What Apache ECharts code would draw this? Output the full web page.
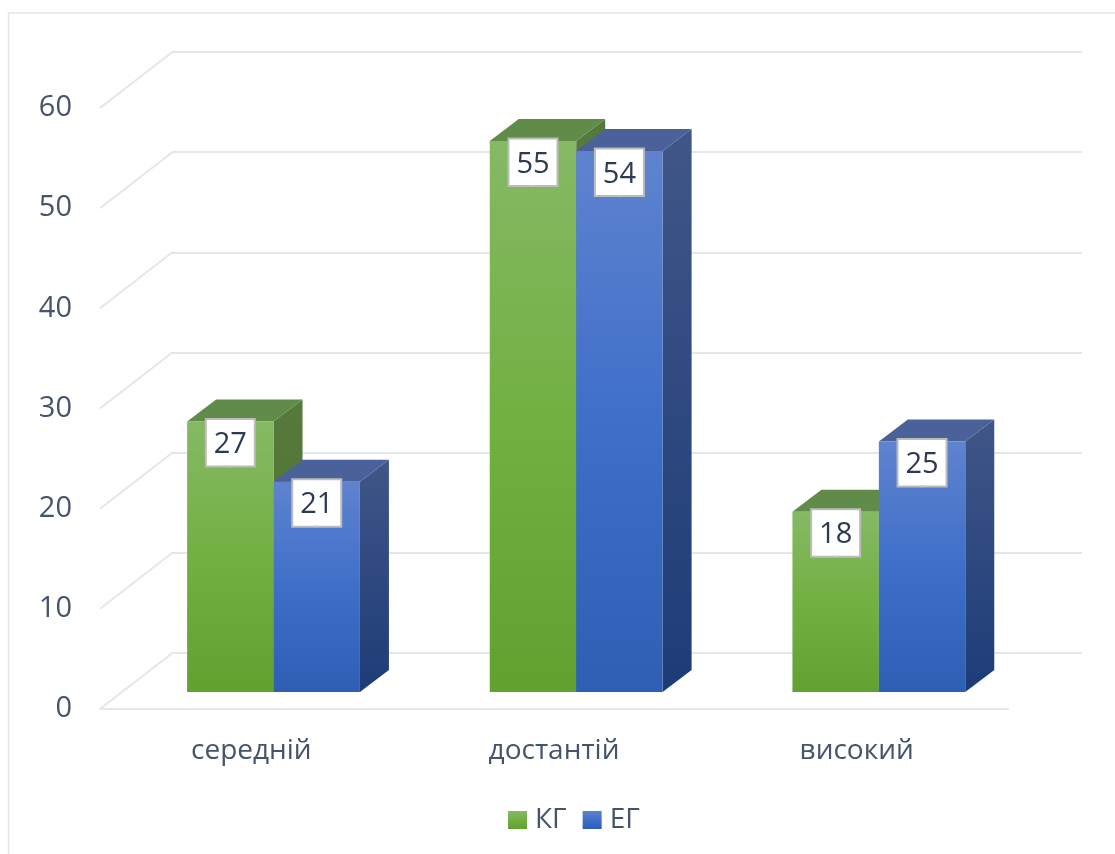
<!DOCTYPE html>
<html><head><meta charset="utf-8">
<style>html,body{margin:0;padding:0;background:#fff}#c{width:1115px;height:854px}</style>
<script src="https://cdn.jsdelivr.net/npm/echarts@6/dist/echarts.min.js"></script>
</head><body><div id="c"></div>
<script>
const categories = ['середній', 'достантій', 'високий'];
const kgValues = [27, 55, 18];
const egValues = [21, 54, 25];
const tickValues = [0, 10, 20, 30, 40, 50, 60];

const FONT = '"Open Sans"';
const TEXT = '#44546a';
const GRID = '#e3e6ed';

function vgrad(stops){return new echarts.graphic.LinearGradient(0,0,0,1,stops.map((c,i)=>({offset:i/(stops.length-1),color:c})));}
const kgStyle = {front:['#85b964','#72b042','#62a030'], top:'#618b48', side:['#567a3c','#4f7234']};
const egStyle = {front:['#5f83cf','#3e6fc9','#2e5fb5'], top:'#4a6299', side:['#405688','#1d3c77']};

function barRenderer(sty, dir){
  return function(params, api){
    const cat = api.value(0), val = api.value(1);
    const top = api.coord([cat, val]), base = api.coord([cat, 0]);
    const unit = api.size([1,0])[0];
    const w = unit*0.2855, ox = unit*0.0733, oy = -17, dx = 29, dy = -22;
    const cx = top[0]+ox;
    const x0 = dir<0 ? cx-w : cx, x1 = dir<0 ? cx : cx+w;
    const yt = top[1]+oy, yb = base[1]+oy;
    const poly = (pts, fill)=>({type:'polygon',shape:{points:pts},style:{fill:fill}});
    const mx = (x0+x1)/2;
    const children = [
      poly([[x1,yt],[x1+dx,yt+dy],[x1+dx,yb+dy],[x1,yb]], vgrad(sty.side)),
      poly([[x0,yt],[x0+dx,yt+dy],[x1+dx,yt+dy],[x1,yt]], sty.top),
      {type:'rect',shape:{x:x0,y:yt,width:x1-x0,height:yb-yt},style:{fill:vgrad(sty.front)}},
      {type:'rect',shape:{x:mx-24.5,y:yt-2.5,width:49,height:47.5},style:{fill:'#fff',stroke:'#bcbcbc',lineWidth:2}},
      {type:'rect',shape:{x:mx-2.5,y:yt+44,width:5,height:1.5},style:{fill:'#c4c4c4'}},
      {type:'text',x:mx,y:yt+23.5,style:{text:String(val),fill:'#2c3a52',font:'29px '+FONT,align:'center',verticalAlign:'middle'}}
    ];
    return {type:'group',children:children};
  };
}

const chart = echarts.init(document.getElementById('c'),null,{renderer:'canvas'});
chart.setOption({
  animation:false,
  backgroundColor:'#ffffff',
  graphic:[
    {type:'polyline',silent:true,z:0,shape:{points:[[8.5,854],[8.5,13],[1115,13]]},style:{stroke:'#e2e7ee',lineWidth:1.5,fill:null}}
  ],
  legend:{
    data:['КГ','ЕГ'],left:503,top:801,itemWidth:19,itemHeight:18,itemGap:16,icon:'rect',
    textStyle:{color:TEXT,fontFamily:FONT,fontSize:28,padding:[0,0,0,3]}
  },
  grid:[
    {left:100,width:908,top:108,height:601},
    {left:172,width:910,top:52,height:601}
  ],
  xAxis:[
    {type:'category',gridIndex:0,data:categories,axisTick:{show:false},
     axisLine:{lineStyle:{color:GRID,width:2}},
     axisLabel:{color:TEXT,fontFamily:FONT,fontSize:28,margin:28}},
    {type:'category',gridIndex:1,data:categories,axisTick:{show:false},axisLine:{show:false},axisLabel:{show:false}}
  ],
  yAxis:[
    {type:'value',gridIndex:0,min:0,max:60,interval:10,axisLine:{show:false},axisTick:{show:false},splitLine:{show:false},
     axisLabel:{color:TEXT,fontFamily:FONT,fontSize:29,margin:28,padding:[4,0,0,0]}},
    {type:'value',gridIndex:1,min:0,max:60,interval:10,axisLine:{show:false},axisTick:{show:false},axisLabel:{show:false},
     splitLine:{show:true,lineStyle:{color:GRID,width:2}}}
  ],
  series:[
    {type:'custom',name:'wall',xAxisIndex:0,yAxisIndex:0,silent:true,z:1,clip:false,
     data:tickValues.map(v=>[0,v]),
     renderItem:function(params,api){
       const p = api.coord([0,api.value(1)]);
       const x0 = params.coordSys.x;
       return {type:'line',shape:{x1:x0,y1:p[1],x2:x0+73,y2:p[1]-56.5},style:{stroke:GRID,lineWidth:2}};
     }},
    {type:'custom',name:'КГ',xAxisIndex:0,yAxisIndex:0,z:3,clip:false,
     itemStyle:{color:vgrad(kgStyle.front)},
     data:categories.map((c,i)=>[i,kgValues[i]]),encode:{x:0,y:1},renderItem:barRenderer(kgStyle,-1)},
    {type:'custom',name:'ЕГ',xAxisIndex:0,yAxisIndex:0,z:4,clip:false,
     itemStyle:{color:vgrad(egStyle.front)},
     data:categories.map((c,i)=>[i,egValues[i]]),encode:{x:0,y:1},renderItem:barRenderer(egStyle,1)}
  ]
});
</script></body></html>
